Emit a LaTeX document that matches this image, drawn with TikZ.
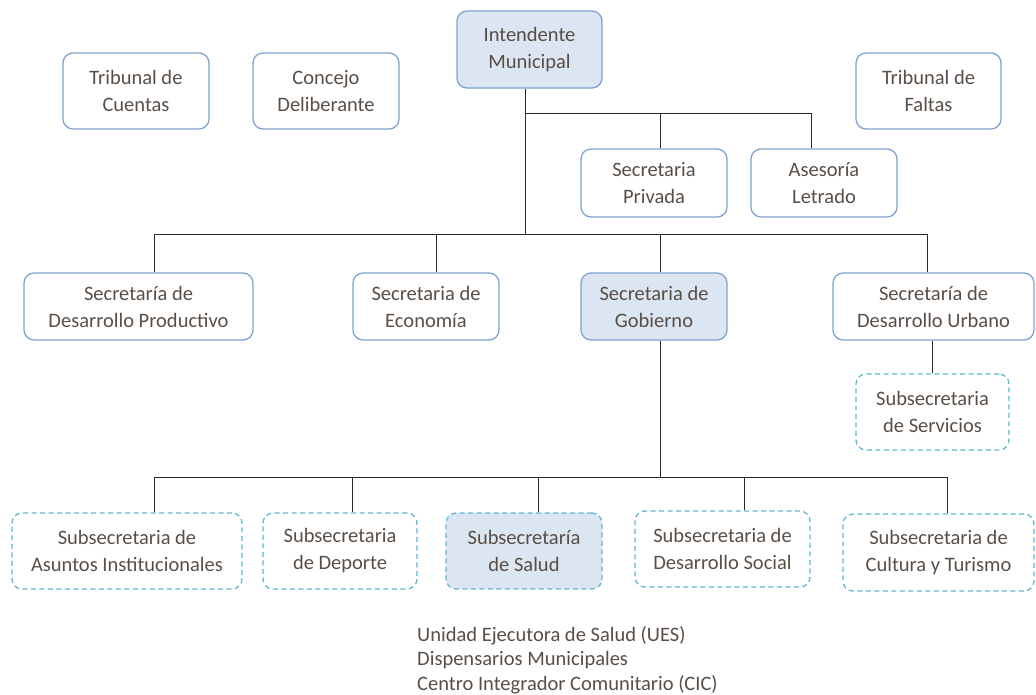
\documentclass[tikz,border=0pt]{standalone}
\usepackage{fontspec}
\setmainfont{Carlito}
\definecolor{txtgray}{RGB}{89,78,70}
\definecolor{boxline}{RGB}{126,162,208}
\definecolor{dashline}{RGB}{92,185,210}
\definecolor{boxfill}{RGB}{220,230,242}
\definecolor{linkgray}{RGB}{40,40,40}
\begin{document}
\begin{tikzpicture}[
            x=1pt, y=-1pt,
            unit/.style={draw=boxline, line width=1.3pt, rounded corners=10pt, align=center,
                text=txtgray, font=\fontsize{20.5}{27}\selectfont, inner sep=0pt},
            subunit/.style={unit, draw=dashline, dash pattern=on 5pt off 3.5pt},
            key/.style={fill=boxfill},
            link/.style={draw=linkgray, line width=1pt}
        ]
            \useasboundingbox (0,0) rectangle (1036,694);
            \node[unit, minimum width=146, minimum height=76] (tcuentas) at (136, 91) {Tribunal de\\Cuentas};
            \node[unit, minimum width=146, minimum height=76] (concejo) at (326, 91) {Concejo\\Deliberante};
            \node[unit, key, minimum width=145, minimum height=77] (intendente) at (529.5, 49.5) {Intendente\\Municipal};
            \node[unit, minimum width=145, minimum height=76] (tfaltas) at (928.5, 91) {Tribunal de\\Faltas};
            \node[unit, minimum width=146, minimum height=68] (privada) at (654, 183) {Secretaria\\Privada};
            \node[unit, minimum width=146, minimum height=68] (asesoria) at (824, 183) {Asesoría\\Letrado};
            \node[unit, minimum width=229, minimum height=67] (productivo) at (138.5, 306.5) {Secretaría de\\Desarrollo Productivo};
            \node[unit, minimum width=146, minimum height=67] (economia) at (426, 306.5) {Secretaria de\\Economía};
            \node[unit, key, minimum width=146, minimum height=67] (gobierno) at (654, 306.5) {Secretaria de\\Gobierno};
            \node[unit, minimum width=201, minimum height=67] (urbano) at (933.5, 306.5) {Secretaría de\\Desarrollo Urbano};
            \node[subunit, minimum width=153, minimum height=76] (servicios) at (932.5, 412) {Subsecretaria\\de Servicios};
            \node[subunit, minimum width=230, minimum height=76] (institucionales) at (127, 551) {Subsecretaria de\\Asuntos Institucionales};
            \node[subunit, minimum width=154, minimum height=76] (deporte) at (340, 551) {Subsecretaria\\de Deporte};
            \node[subunit, key, minimum width=156, minimum height=76] (salud) at (524, 551) {Subsecretaría\\de Salud};
            \node[subunit, minimum width=175, minimum height=76] (social) at (722.5, 549) {Subsecretaria de\\Desarrollo Social};
            \node[subunit, minimum width=191, minimum height=77] (cultura) at (938.5, 552.5) {Subsecretaria de\\Cultura y Turismo};
            \node[anchor=north west, align=left, inner sep=0pt, text=txtgray, font=\fontsize{20.5}{24.5}\selectfont] (saludlist) at (417, 626)
                {Unidad Ejecutora de Salud (UES)\\Dispensarios Municipales\\Centro Integrador Comunitario (CIC)};
            \coordinate (staff) at (525, 113);
            \coordinate (mainbus) at (525, 234);
            \coordinate (subbus) at (660, 477);
            \draw[link] ([xshift=-4.5]intendente.south) -- (mainbus);
            \draw[link] (staff) -| ([xshift=6]privada.north);
            \draw[link] (staff) -| ([xshift=-13]asesoria.north);
            \draw[link] (mainbus) -| ([xshift=15.5]productivo.north);
            \draw[link] (mainbus) -| ([xshift=10]economia.north);
            \draw[link] (mainbus) -| ([xshift=6]gobierno.north);
            \draw[link] (mainbus) -| ([xshift=-6.5]urbano.north);
            \draw[link] ([xshift=-1.5]urbano.south) -- ([xshift=-0.5]servicios.north);
            \draw[link] ([xshift=6]gobierno.south) -- (subbus);
            \draw[link] (subbus) -| ([xshift=27]institucionales.north);
            \draw[link] (subbus) -| ([xshift=12]deporte.north);
            \draw[link] (subbus) -| ([xshift=14]salud.north);
            \draw[link] (subbus) -| ([xshift=21.5]social.north);
            \draw[link] (subbus) -| ([xshift=8.5]cultura.north);
        \end{tikzpicture}
\end{document}
